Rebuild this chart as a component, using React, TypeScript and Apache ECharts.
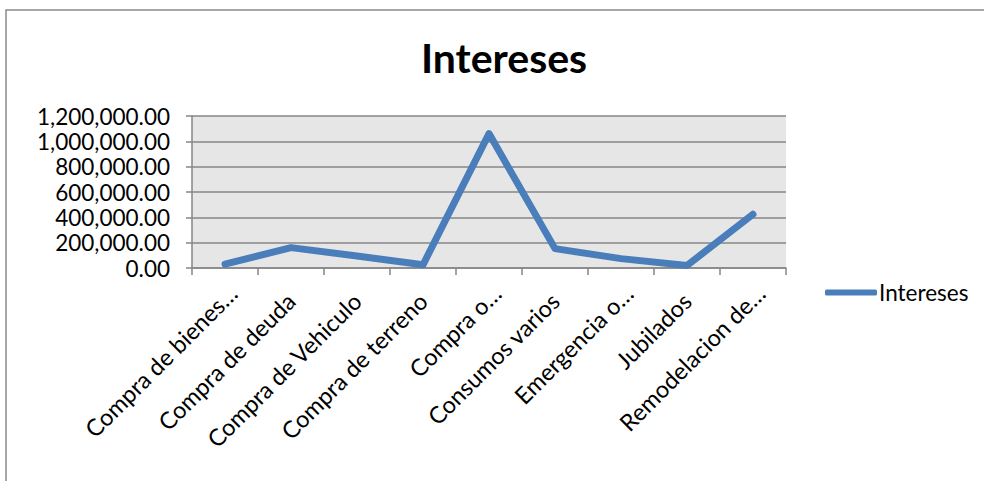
import React, { useEffect, useRef } from "react";
import * as echarts from "echarts";

const categories = [
  "Compra de bienes…",
  "Compra de deuda",
  "Compra de Vehiculo",
  "Compra de terreno",
  "Compra o…",
  "Consumos varios",
  "Emergencia o…",
  "Jubilados",
  "Remodelacion de…",
];
const seriesName = "Intereses";
const interesesValues = [30000, 161000, 95000, 25000, 1061000, 153000, 74000, 20000, 424000];
const yMin = 0;
const yMax = 1200000;
const yInterval = 200000;

const FONT = "Lato, 'Open Sans', sans-serif";

function fmt(v: number): string {
  const s = Math.round(v).toString().replace(/\B(?=(\d{3})+(?!\d))/g, ",");
  return s + ".00";
}

export default function App() {
  const ref = useRef<HTMLDivElement>(null);
  useEffect(() => {
    document.body.style.margin = "0";
    const chart = echarts.init(ref.current!, null, { renderer: "svg" });
    const catData = categories.map((c) =>
      c.endsWith("…") ? { value: c, textStyle: { padding: [0, -11, 0, 0] } } : c
    );
    chart.setOption({
      animation: false,
      backgroundColor: "#ffffff",
      textStyle: { fontFamily: FONT },
      graphic: [
        {
          type: "rect",
          shape: { x: 6, y: 10, width: 1100, height: 600 },
          style: { fill: "none", stroke: "#8a8a8a", lineWidth: 1.5 },
          silent: true,
          z: -10,
        },
        {
          type: "text",
          x: 504,
          y: 57,
          style: {
            text: "Intereses",
            fontFamily: FONT,
            fontWeight: "bold",
            fontSize: 41,
            fill: "#000",
            textAlign: "center",
            textVerticalAlign: "middle",
          },
        },
      ],
      grid: {
        left: 192,
        top: 116,
        right: 198,
        bottom: 213,
        show: true,
        backgroundColor: "#e6e6e6",
        borderWidth: 0,
      },
      legend: {
        show: true,
        left: 820,
        top: 276,
        itemWidth: 52,
        itemHeight: 6,
        itemGap: 4,
        icon: "roundRect",
        data: [{ name: seriesName }],
        textStyle: { fontFamily: FONT, fontSize: 22.5, color: "#000", padding: [0, 0, 0, -3] },
      },
      xAxis: {
        type: "category",
        data: catData,
        boundaryGap: true,
        axisLine: { show: true, lineStyle: { color: "#868686", width: 1.5 } },
        axisTick: { show: true, interval: 0, length: 7, lineStyle: { color: "#868686", width: 1.5 } },
        axisLabel: {
          interval: 0,
          rotate: 45,
          margin: 29,
          fontFamily: FONT,
          fontSize: 23.5,
          color: "#000",
        },
        splitLine: { show: false },
      },
      yAxis: {
        type: "value",
        min: yMin,
        max: yMax,
        interval: yInterval,
        axisLine: { show: true, lineStyle: { color: "#868686", width: 1.5 } },
        axisTick: { show: true, length: 6, lineStyle: { color: "#868686", width: 1.5 } },
        axisLabel: {
          formatter: (v: number) => fmt(v),
          margin: 22,
          fontFamily: FONT,
          fontSize: 22.5,
          color: "#000",
        },
        splitLine: { show: true, lineStyle: { color: "#868686", width: 1.5 } },
      },
      series: [
        {
          name: seriesName,
          type: "line",
          data: interesesValues,
          symbol: "none",
          color: "#4a7ebb",
          lineStyle: { color: "#4a7ebb", width: 7, cap: "round", join: "round" },
        },
      ],
    });
    return () => chart.dispose();
  }, []);
  return <div ref={ref} style={{ width: 984, height: 481 }} />;
}
